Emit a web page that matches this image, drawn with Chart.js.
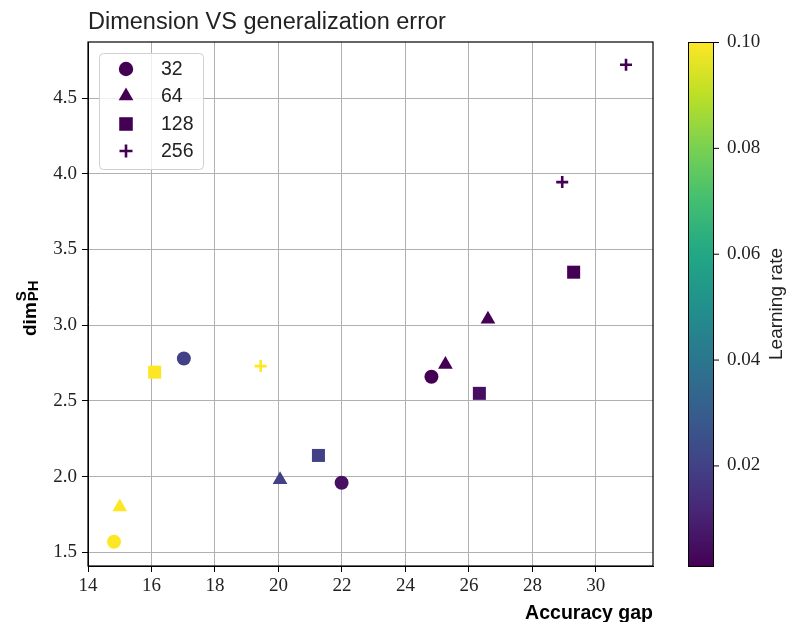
<!DOCTYPE html>
<html>
<head>
<meta charset="utf-8">
<script src="https://cdn.jsdelivr.net/npm/chart.js@4/dist/chart.umd.min.js"></script>
<style>
html,body{margin:0;padding:0;background:#fff;}
#wrap{width:789px;height:622px;}
</style>
</head>
<body>
<div id="wrap"><canvas id="c" width="789" height="622"></canvas></div>
<script>
// ---- data ----
const batchSizes = ["32", "64", "128", "256"];
const gap32 = [14.82, 17.02, 21.99, 24.82];
const dim32 = [1.57, 2.78, 1.96, 2.66];
const lr32  = [0.1, 0.02, 0.005, 0.001];
const gap64 = [15.0, 20.05, 25.26, 26.6];
const dim64 = [1.80, 1.98, 2.74, 3.04];
const lr64  = [0.1, 0.02, 0.001, 0.001];
const gap128 = [16.1, 21.26, 26.33, 29.3];
const dim128 = [2.69, 2.14, 2.55, 3.35];
const lr128  = [0.1, 0.02, 0.005, 0.001];
const gap256 = [19.44, 28.94, 30.95];
const dim256 = [2.73, 3.945, 4.72];
const lr256  = [0.1, 0.001, 0.001];
const xTicks = [14, 16, 18, 20, 22, 24, 26, 28, 30];
const yTicks = [1.5, 2.0, 2.5, 3.0, 3.5, 4.0, 4.5];
const cbTicks = [0.02, 0.04, 0.06, 0.08, 0.10];
const lrMin = 0.001, lrMax = 0.1;

// ---- viridis colormap ----
const viridis = ["#440154","#482475","#414487","#355f8d","#2a788e","#21918c","#22a884","#44bf70","#7ad151","#bddf26","#fde725"];
function hex2rgb(h){return [parseInt(h.substr(1,2),16),parseInt(h.substr(3,2),16),parseInt(h.substr(5,2),16)];}
function cmap(t){
  t=Math.max(0,Math.min(1,t));
  const p=t*(viridis.length-1), i=Math.min(Math.floor(p),viridis.length-2), f=p-i;
  const a=hex2rgb(viridis[i]), b=hex2rgb(viridis[i+1]);
  return 'rgb('+a.map((v,k)=>Math.round(v+(b[k]-v)*f)).join(',')+')';
}
function lrColor(lr){return cmap((lr-lrMin)/(lrMax-lrMin));}
function pts(xs,ys){return xs.map((x,i)=>({x:x,y:ys[i]}));}

const SERIF = "'Liberation Serif', 'DejaVu Serif', serif";
const SANS = "'Liberation Sans', Arial, sans-serif";
const legendColor = "#440154";

const datasets = [
  {label:batchSizes[0], data:pts(gap32,dim32), pointStyle:'circle', pointRadius:7, backgroundColor:lr32.map(lrColor), borderWidth:0, legendRadius:7.2},
  {label:batchSizes[1], data:pts(gap64,dim64), pointStyle:'triangle', pointRadius:8.5, backgroundColor:lr64.map(lrColor), borderWidth:0, legendRadius:8.5},
  {label:batchSizes[2], data:pts(gap128,dim128), pointStyle:'rect', pointRadius:9.2, backgroundColor:lr128.map(lrColor), borderWidth:0, legendRadius:9.6},
  {label:batchSizes[3], data:pts(gap256,dim256), pointStyle:'cross', pointRadius:6, borderColor:lr256.map(lrColor), backgroundColor:lr256.map(lrColor), borderWidth:2.6, legendRadius:6.5}
];

const decor = {
  id:'decor',
  afterDraw(chart){
    const ctx=chart.ctx, a=chart.chartArea;
    ctx.save();
    // frame
    ctx.strokeStyle='#000'; ctx.lineWidth=1.2;
    ctx.strokeRect(a.left,a.top,a.right-a.left,a.bottom-a.top);
    // title
    ctx.fillStyle='#222'; ctx.font='23.5px '+SANS; ctx.textAlign='left'; ctx.textBaseline='alphabetic';
    ctx.fillText('Dimension VS generalization error', a.left, 29);
    // x label
    ctx.font='bold 19.5px '+SANS; ctx.textAlign='right'; ctx.fillStyle='#000';
    ctx.fillText('Accuracy gap', a.right, 619);
    // y label: dim^S_PH rotated
    ctx.save();
    ctx.translate(36, 336); ctx.rotate(-Math.PI/2);
    ctx.textAlign='left'; ctx.textBaseline='alphabetic';
    ctx.font='bold 19px '+SANS;
    ctx.fillText('dim',0,0);
    const w=ctx.measureText('dim').width;
    ctx.font='bold 15px '+SANS;
    ctx.fillText('S',w+1,-10);
    ctx.fillText('PH',w+1,2);
    ctx.restore();
    // legend
    const lx=99, ly=53, lw=104, lh=116;
    ctx.beginPath();
    if(ctx.roundRect){ctx.roundRect(lx+0.5,ly+0.5,lw,lh,4);} else {ctx.rect(lx+0.5,ly+0.5,lw,lh);}
    ctx.fillStyle='rgba(255,255,255,0.8)'; ctx.fill();
    ctx.strokeStyle='#d0d0d0'; ctx.lineWidth=1; ctx.stroke();
    const rows=[69,96,124,151];
    chart.data.datasets.forEach((ds,i)=>{
      ctx.fillStyle=legendColor; ctx.strokeStyle=legendColor;
      ctx.lineWidth=ds.borderWidth||0;
      Chart.helpers.drawPoint(ctx,{pointStyle:ds.pointStyle,radius:ds.legendRadius,rotation:0,borderWidth:ds.borderWidth||0},126,rows[i]);
      ctx.fillStyle='#222'; ctx.font='19.5px '+SANS; ctx.textAlign='left'; ctx.textBaseline='middle';
      ctx.fillText(ds.label,161,rows[i]+1);
    });
    // colorbar
    const cx=688, cw=25, ct=a.top, cb=a.bottom;
    const g=ctx.createLinearGradient(0,cb,0,ct);
    viridis.forEach((c,i)=>g.addColorStop(i/(viridis.length-1),c));
    ctx.fillStyle=g; ctx.fillRect(cx,ct,cw,cb-ct);
    ctx.strokeStyle='#000'; ctx.lineWidth=1; ctx.strokeRect(cx+0.5,ct+0.5,cw,cb-ct);
    ctx.fillStyle='#222'; ctx.font='19px '+SERIF; ctx.textAlign='left'; ctx.textBaseline='middle';
    cbTicks.forEach(v=>{
      const y=cb-(v-lrMin)/(lrMax-lrMin)*(cb-ct);
      ctx.beginPath(); ctx.moveTo(cx+cw,y+0.5); ctx.lineTo(cx+cw+6,y+0.5); ctx.strokeStyle='#000'; ctx.stroke();
      ctx.fillText(v.toFixed(2),cx+cw+14,y);
    });
    ctx.save();
    ctx.translate(777,(ct+cb)/2); ctx.rotate(-Math.PI/2);
    ctx.textAlign='center'; ctx.textBaseline='middle'; ctx.font='19px '+SANS; ctx.fillStyle='#222';
    ctx.fillText('Learning rate',0,0);
    ctx.restore();
    ctx.restore();
  }
};

new Chart(document.getElementById('c'),{
  type:'scatter',
  data:{datasets:datasets},
  options:{
    responsive:false, animation:false, devicePixelRatio:1,
    layout:{padding:{top:42,right:136,bottom:0,left:0}},
    plugins:{legend:{display:false},tooltip:{enabled:false},title:{display:false}},
    scales:{
      x:{type:'linear',min:14,max:31.8,
         afterBuildTicks(s){s.ticks=xTicks.map(v=>({value:v}));},
         afterFit(s){s.height=56;},
         grid:{color:'#b0b0b0',lineWidth:1,tickLength:6,tickColor:'#000'},
         border:{display:true,color:'#000'},
         ticks:{color:'#222',font:{family:SERIF,size:19},padding:3,maxRotation:0,callback:v=>String(v)}},
      y:{type:'linear',min:1.41,max:4.87,
         afterBuildTicks(s){s.ticks=yTicks.map(v=>({value:v}));},
         afterFit(s){s.width=88;},
         grid:{color:'#b0b0b0',lineWidth:1,tickLength:6,tickColor:'#000'},
         border:{display:true,color:'#000'},
         ticks:{color:'#222',font:{family:SERIF,size:19},padding:5,callback:v=>v.toFixed(1)}}
    }
  },
  plugins:[decor]
});
</script>
</body>
</html>
